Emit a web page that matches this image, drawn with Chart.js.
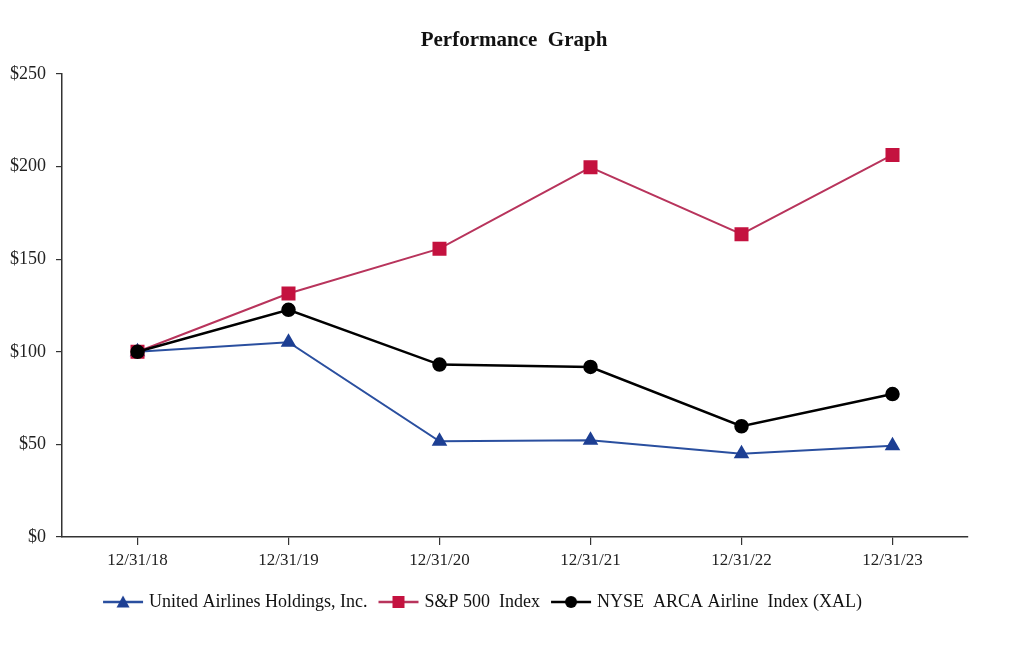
<!DOCTYPE html>
<html>
<head>
<meta charset="utf-8">
<script src="https://cdn.jsdelivr.net/npm/chart.js@4"></script>
<style>
  html, body { margin: 0; padding: 0; background: #ffffff; }
  #wrap { width: 1024px; height: 646px; position: relative; }
</style>
</head>
<body>
<div id="wrap"><canvas id="c" width="1024" height="646"></canvas></div>
<script>
const categories = ['12/31/18', '12/31/19', '12/31/20', '12/31/21', '12/31/22', '12/31/23'];
const unitedValues = [100, 105.2, 51.7, 52.3, 45.0, 49.3];
const sp500Values = [100, 131.5, 155.7, 199.6, 163.5, 206.3];
const xalValues = [100, 122.7, 93.1, 91.8, 59.8, 77.2];
const seriesNames = ['United Airlines Holdings, Inc.', 'S&P 500  Index', 'NYSE  ARCA Airline  Index (XAL)'];
const yTicks = [0, 50, 100, 150, 200, 250];
const titleText = 'Performance  Graph';

const FONT = "'Liberation Serif', 'Times New Roman', serif";
const blue = '#1d3f93', blueLine = '#2a4f9f';
const red = '#c4123f', redLine = '#b8345c';
const black = '#000000';

function legendSymbol(lineColor, fillColor, shape) {
  const c = document.createElement('canvas');
  c.width = 42; c.height = 14;
  const x = c.getContext('2d');
  x.strokeStyle = lineColor; x.lineWidth = 2.5;
  x.beginPath(); x.moveTo(1, 7); x.lineTo(41, 7); x.stroke();
  x.fillStyle = fillColor;
  if (shape === 'tri') {
    x.beginPath(); x.moveTo(21, 0.5); x.lineTo(27.5, 12.5); x.lineTo(14.5, 12.5); x.closePath(); x.fill();
  } else if (shape === 'rect') {
    x.fillRect(15, 1, 12, 12);
  } else {
    x.beginPath(); x.arc(21, 7, 6, 0, Math.PI * 2); x.fill();
  }
  return c;
}
const legendImgs = [
  legendSymbol(blueLine, blue, 'tri'),
  legendSymbol(redLine, red, 'rect'),
  legendSymbol(black, black, 'circle')
];

const titlePlugin = {
  id: 'customTitle',
  afterDraw(chart) {
    const ctx = chart.ctx;
    ctx.save();
    ctx.font = 'bold 21px ' + FONT;
    ctx.fillStyle = '#111';
    ctx.textAlign = 'center';
    ctx.textBaseline = 'middle';
    ctx.fillText(titleText, 514, 41);
    ctx.restore();
  }
};

new Chart(document.getElementById('c'), {
  type: 'line',
  data: {
    labels: categories,
    datasets: [
      { label: seriesNames[0], data: unitedValues, borderColor: blueLine, backgroundColor: blue,
        pointBackgroundColor: blue, pointBorderColor: blue, pointStyle: 'triangle', pointRadius: 7,
        borderWidth: 2, tension: 0, order: 3 },
      { label: seriesNames[1], data: sp500Values, borderColor: redLine, backgroundColor: red,
        pointBackgroundColor: red, pointBorderColor: red, pointStyle: 'rect', pointRadius: 8.5,
        borderWidth: 2, tension: 0, order: 2 },
      { label: seriesNames[2], data: xalValues, borderColor: black, backgroundColor: black,
        pointBackgroundColor: black, pointBorderColor: black, pointStyle: 'circle', pointRadius: 6,
        borderWidth: 2.5, tension: 0, order: 1 }
    ]
  },
  plugins: [titlePlugin],
  options: {
    responsive: false,
    animation: false,
    devicePixelRatio: 1,
    layout: { padding: { left: 0, right: 56, top: 74, bottom: 25 } },
    plugins: {
      title: { display: false },
      legend: {
        display: true, position: 'bottom',
        labels: {
          usePointStyle: true, pointStyleWidth: 34,
          color: '#111', font: { family: FONT, size: 18 }, padding: 14,
          generateLabels: (chart) => chart.data.datasets.map((ds, i) => ({
            text: ds.label, pointStyle: legendImgs[i], fillStyle: ds.backgroundColor,
            strokeStyle: ds.borderColor, lineWidth: 0, hidden: false, datasetIndex: i, fontColor: '#111'
          }))
        }
      },
      tooltip: { enabled: false }
    },
    scales: {
      x: {
        type: 'category', offset: true,
        grid: { display: true, drawOnChartArea: false, drawTicks: true, tickLength: 8, offset: false, color: '#333', lineWidth: 1.2 },
        border: { display: true, color: '#333', width: 1.5 },
        ticks: { color: '#222', font: { family: FONT, size: 17 }, padding: 5, maxRotation: 0 },
        afterFit: (s) => { s.height = 42; }
      },
      y: {
        min: 0, max: 250,
        afterBuildTicks: (s) => { s.ticks = yTicks.map(v => ({ value: v })); },
        grid: { display: true, drawOnChartArea: false, drawTicks: true, tickLength: 6, color: '#333', lineWidth: 1.2 },
        border: { display: true, color: '#333', width: 1.5 },
        ticks: { color: '#222', font: { family: FONT, size: 18 }, padding: 10, callback: (v) => '$' + v },
        afterFit: (s) => { s.width = 62; }
      }
    }
  }
});
</script>
</body>
</html>
